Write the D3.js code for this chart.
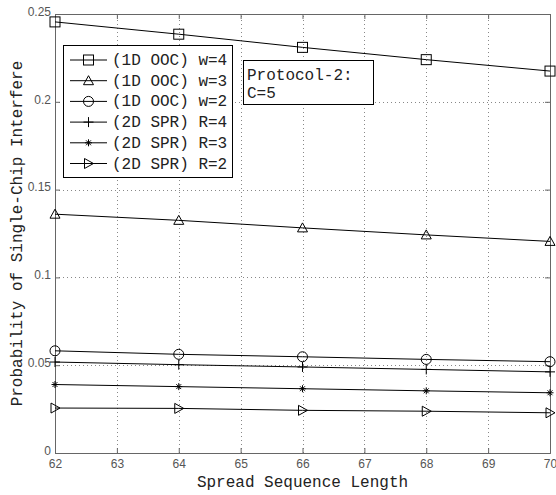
<!DOCTYPE html>
<html>
<head>
<meta charset="UTF-8">
<title>Single-Chip Interference</title>
<script src="https://cdn.jsdelivr.net/npm/d3@7"></script>
<style>
body{margin:0;background:#fff;}
svg{display:block;}
.tick text{font-family:"Liberation Sans",Arial,sans-serif;font-size:12px;fill:#555;}
.mono{font-family:"Liberation Mono","Courier New",monospace;fill:#222;}
</style>
</head>
<body>
<script>
var width=556,height=495;
var margin={top:14,right:6,bottom:42,left:55};

// data
var lengths=[62,64,66,68,70];
var ooc4=[0.2455,0.2385,0.2310,0.2240,0.2175];
var ooc3=[0.1360,0.1325,0.1282,0.1242,0.1205];
var ooc2=[0.0582,0.0562,0.0548,0.0533,0.0520];
var spr4=[0.0518,0.0503,0.0490,0.0476,0.0462];
var spr3=[0.0390,0.0378,0.0366,0.0354,0.0343];
var spr2=[0.0256,0.0254,0.0243,0.0238,0.0229];
var seriesNames=["(1D OOC) w=4","(1D OOC) w=3","(1D OOC) w=2","(2D SPR) R=4","(2D SPR) R=3","(2D SPR) R=2"];
var seriesMarks=["square","triangle","circle","plus","star","right"];
var xTicks=[62,63,64,65,66,67,68,69,70];
var yTicks=[0,0.05,0.1,0.15,0.2,0.25];
var yTickLabels=["0","0.05","0.1","0.15","0.2","0.25"];
var noteLines=["Protocol-2:","C=5"];

var allSeries=[ooc4,ooc3,ooc2,spr4,spr3,spr2];

var svg=d3.select("body").append("svg")
  .attr("width",width)
  .attr("height",height);

var x=d3.scaleLinear().domain([62,70]).range([margin.left,width-margin.right]);
var y=d3.scaleLinear().domain([0,0.25]).range([height-margin.bottom,margin.top]);

// grid
var grid=svg.append("g").attr("stroke","#888").attr("stroke-width",1).attr("stroke-dasharray","1,3");
grid.selectAll(".gx").data(xTicks.slice(1,-1)).enter().append("line")
  .attr("x1",d=>Math.round(x(d))+0.5).attr("x2",d=>Math.round(x(d))+0.5)
  .attr("y1",y(0)).attr("y2",y(0.25));
grid.selectAll(".gy").data(yTicks.slice(1,-1)).enter().append("line")
  .attr("y1",d=>Math.round(y(d))+0.5).attr("y2",d=>Math.round(y(d))+0.5)
  .attr("x1",x(62)).attr("x2",x(70));

// axes (ticks inward)
var axB=svg.append("g").attr("transform","translate(0,"+y(0)+")")
  .call(d3.axisBottom(x).tickValues(xTicks).tickSize(-5).tickPadding(6).tickFormat(d3.format("d")));
var axL=svg.append("g").attr("transform","translate("+x(62)+",0)")
  .call(d3.axisLeft(y).tickValues(yTicks).tickSize(-5).tickPadding(4).tickFormat((d,i)=>yTickLabels[i]));
svg.append("g").attr("transform","translate(0,"+y(0.25)+")")
  .call(d3.axisTop(x).tickValues(xTicks).tickSize(-5).tickFormat(""));
svg.append("g").attr("transform","translate("+x(70)+",0)")
  .call(d3.axisRight(y).tickValues(yTicks).tickSize(-5).tickFormat(""));
svg.selectAll(".domain").attr("stroke","#666");
svg.selectAll(".tick line").attr("stroke","#666");
axL.selectAll(".tick text").attr("dy","0.1em");

// marker drawing
function marker(g,type,cx,cy){
  var s=5;
  if(type=="square"){
    g.append("rect").attr("x",cx-s).attr("y",cy-s).attr("width",2*s).attr("height",2*s)
      .attr("fill","none").attr("stroke","#000");
  }else if(type=="triangle"){
    g.append("path").attr("d","M"+cx+","+(cy-s)+"L"+(cx+s)+","+(cy+s*0.8)+"L"+(cx-s)+","+(cy+s*0.8)+"Z")
      .attr("fill","none").attr("stroke","#000");
  }else if(type=="circle"){
    g.append("circle").attr("cx",cx).attr("cy",cy).attr("r",s).attr("fill","none").attr("stroke","#000");
  }else if(type=="plus"){
    g.append("path").attr("d","M"+(cx-s)+","+cy+"H"+(cx+s)+"M"+cx+","+(cy-s)+"V"+(cy+s))
      .attr("stroke","#000");
  }else if(type=="star"){
    var r=3.5;
    g.append("path").attr("d","M"+(cx-r)+","+cy+"H"+(cx+r)+"M"+cx+","+(cy-r)+"V"+(cy+r)+
      "M"+(cx-r*0.7)+","+(cy-r*0.7)+"L"+(cx+r*0.7)+","+(cy+r*0.7)+
      "M"+(cx-r*0.7)+","+(cy+r*0.7)+"L"+(cx+r*0.7)+","+(cy-r*0.7))
      .attr("stroke","#000");
  }else if(type=="right"){
    g.append("path").attr("d","M"+(cx+s)+","+cy+"L"+(cx-s*0.8)+","+(cy-s)+"L"+(cx-s*0.8)+","+(cy+s)+"Z")
      .attr("fill","none").attr("stroke","#000");
  }
}

var line=d3.line().x((d,i)=>x(lengths[i])).y(d=>y(d));
var plot=svg.append("g");
allSeries.forEach(function(vals,k){
  plot.append("path").datum(vals).attr("d",line)
    .attr("fill","none").attr("stroke","#000").attr("stroke-width",1);
  vals.forEach(function(v,i){ marker(plot,seriesMarks[k],x(lengths[i]),y(v)); });
});

// legend
var lg=svg.append("g").attr("transform","translate(63,45)");
lg.append("rect").attr("x",0.5).attr("y",0.5).attr("width",169).attr("height",132)
  .attr("fill","#fff").attr("stroke","#000");
seriesNames.forEach(function(n,i){
  var ly=15+i*20.7;
  lg.append("line").attr("x1",7).attr("x2",44).attr("y1",ly).attr("y2",ly).attr("stroke","#000");
  marker(lg,seriesMarks[i],25.5,ly);
  lg.append("text").attr("class","mono").attr("x",49).attr("y",ly+5)
    .attr("font-size","16px").text(n);
});

// annotation box
var nb=svg.append("g").attr("transform","translate(243,60)");
nb.append("rect").attr("x",0.5).attr("y",0.5).attr("width",130).attr("height",44)
  .attr("fill","#fff").attr("stroke","#000");
noteLines.forEach(function(t,i){
  nb.append("text").attr("class","mono").attr("x",4).attr("y",20+i*18)
    .attr("font-size","16px").text(t);
});

// axis titles
svg.append("text").attr("class","mono").attr("font-size","16px")
  .attr("text-anchor","middle").attr("x",(x(62)+x(70))/2).attr("y",487)
  .text("Spread Sequence Length");
svg.append("text").attr("class","mono").attr("font-size","16px")
  .attr("text-anchor","middle")
  .attr("transform","translate(22,"+((y(0)+y(0.25))/2)+") rotate(-90)")
  .text("Probability of Single-Chip Interfere");
</script>
</body>
</html>
